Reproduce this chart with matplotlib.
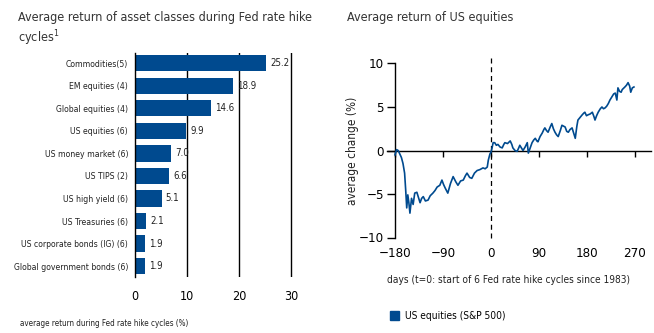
import matplotlib
matplotlib.use("Agg")
import matplotlib.pyplot as plt
from matplotlib.patches import Patch

plt.rcParams['font.family'] = ['DejaVu Sans']
plt.rcParams['font.stretch'] = 'condensed'

# ---- data: left chart ----
categories = ["Commodities(5)", "EM equities (4)", "Global equities (4)", "US equities (6)",
              "US money market (6)", "US TIPS (2)", "US high yield (6)", "US Treasuries (6)",
              "US corporate bonds (IG) (6)", "Global government bonds (6)"]
returns = [25.2, 18.9, 14.6, 9.9, 7.0, 6.6, 5.1, 2.1, 1.9, 1.9]
bar_ticks = [0, 10, 20, 30]

# ---- data: right chart ----
days = [-180, -177, -174, -171, -168, -165, -162, -160, -158, -156, -154, -152, -149, -146,
        -143, -139, -136, -133, -130, -127, -123, -118, -114, -109, -105, -101, -96, -92,
        -89, -86, -81, -76, -71, -66, -62, -57, -52, -48, -45, -40, -36, -31, -26, -21,
        -15, -11, -7, -5, -2, 0, 2, 4, 7, 10, 13, 17, 21, 24, 26, 31, 36, 39, 41, 45, 49,
        52, 54, 57, 60, 64, 68, 70, 74, 77, 80, 83, 86, 88, 92, 96, 99, 101, 104, 107,
        111, 114, 117, 120, 123, 126, 130, 133, 136, 139, 142, 145, 148, 152, 155, 158,
        161, 163, 167, 171, 174, 176, 179, 182, 186, 190, 193, 195, 198, 201, 205, 208,
        211, 214, 217, 220, 223, 227, 230, 233, 236, 238, 241, 244, 246, 251, 254, 257,
        260, 262, 265, 268]
us_eq = [-0.5, 0.1, 0.0, -0.4, -0.8, -1.5, -2.6, -4.5, -6.6, -5.1, -6.0, -7.2, -5.5, -6.2,
         -4.9, -4.8, -5.4, -6.0, -5.5, -5.3, -5.8, -5.7, -5.2, -4.9, -4.6, -4.2, -4.0, -3.4,
         -3.9, -4.3, -4.9, -3.8, -3.0, -3.6, -4.0, -3.5, -3.4, -2.9, -2.6, -3.1, -3.2, -2.6,
         -2.3, -2.2, -2.0, -2.1, -1.9, -1.1, -0.4, -0.2, 0.3, 0.9, 0.9, 0.6, 0.7, 0.4, 0.3,
         0.7, 0.9, 0.8, 1.1, 0.7, 0.3, 0.0, -0.1, 0.3, 0.6, 0.3, 0.0, 0.4, 0.9, -0.3, 0.4,
         0.9, 1.2, 1.4, 1.1, 1.0, 1.6, 2.0, 2.4, 2.6, 2.3, 2.1, 2.7, 3.1, 2.5, 2.1, 1.8,
         1.6, 2.3, 2.9, 2.8, 2.7, 2.2, 2.1, 2.4, 2.6, 2.0, 1.4, 2.8, 3.5, 3.8, 4.1, 4.3,
         4.4, 4.0, 4.1, 4.2, 4.4, 3.9, 3.5, 4.0, 4.4, 4.8, 5.0, 4.8, 4.9, 5.1, 5.4, 5.8,
         6.2, 6.5, 6.6, 5.8, 7.2, 6.8, 6.7, 7.0, 7.3, 7.5, 7.8, 7.4, 6.7, 7.2, 7.3]
day_ticks = [-180, -90, 0, 90, 180, 270]
y_ticks = [-10, -5, 0, 5, 10]

BLUE = "#004a8f"
TXT = "#333333"

fig = plt.figure(figsize=(6.54, 3.33), dpi=100)

# ---------------- left chart ----------------
ax1 = fig.add_axes([135 / 654, 1 - 277 / 333, 158 / 654, 224 / 333])
ypos = list(range(len(categories)))
bars = ax1.barh(ypos, returns, height=0.72, color=BLUE)
ax1.set_ylim(len(categories) - 0.52, -0.45)
ax1.set_xlim(0, 30.4)
ax1.set_yticks(ypos)
ax1.set_yticklabels(categories, fontsize=6.2, color="#222222")
ax1.set_xticks(bar_ticks)
ax1.tick_params(axis='both', length=0)
ax1.tick_params(axis='y', pad=5)
ax1.tick_params(axis='x', pad=9, labelsize=9)
for s in ['top', 'right', 'bottom']:
    ax1.spines[s].set_visible(False)
ax1.spines['left'].set_linewidth(1.0)
for t in bar_ticks[1:]:
    ax1.axvline(t, color='black', lw=1.0, zorder=0)
ax1.bar_label(bars, labels=[f"{v:.1f}" for v in returns], padding=3, fontsize=7, color="#222222")

fig.text(18 / 654, 1 - 18 / 333, "Average return of asset classes during Fed rate hike",
         fontsize=9, color=TXT, va='center', ha='left')
fig.text(18 / 654, 1 - 38 / 333, "cycles$^1$", fontsize=9, color=TXT, va='center', ha='left')
fig.text(20 / 654, 1 - 323 / 333, "average return during Fed rate hike cycles (%)",
         fontsize=5.8, color="#222222", va='center', ha='left')

# ---------------- right chart ----------------
ax2 = fig.add_axes([387 / 654, 1 - 237.5 / 333, 264 / 654, 174 / 333])
ax2.plot(days, us_eq, color=BLUE, lw=1.2, zorder=3)
ax2.set_xlim(-195, 300)
ax2.set_ylim(-10, 10)
ax2.vlines(0, -10, 10.6, colors='black', linestyles=(0, (4, 3)), lw=0.9, clip_on=False)
ax2.spines['top'].set_visible(False)
ax2.spines['right'].set_visible(False)
ax2.spines['left'].set_position(('data', -180))
ax2.spines['left'].set_bounds(-10, 10)
ax2.spines['bottom'].set_position(('data', 0))
ax2.spines['left'].set_linewidth(1.0)
ax2.spines['bottom'].set_linewidth(1.0)
ax2.set_yticks(y_ticks)
ax2.set_yticklabels(["\u221210", "\u22125", "0", "5", "10"])
ax2.tick_params(axis='y', length=6, width=1.0, pad=2, labelsize=9.5)
ax2.set_xticks(day_ticks)
ax2.tick_params(axis='x', direction='out', length=4.5, width=1.0, labelbottom=False)
sec = ax2.secondary_xaxis(0)
sec.set_xticks(day_ticks)
sec.set_xticklabels(["\u2212180", "\u221290", "0", "90", "180", "270"])
sec.tick_params(length=0, pad=7, labelsize=9.5)
sec.spines['bottom'].set_visible(False)
ax2.set_ylabel("average change (%)", fontsize=8.5, color="#222222", labelpad=0)

fig.text(347 / 654, 1 - 18 / 333, "Average return of US equities",
         fontsize=9, color=TXT, va='center', ha='left')
fig.text(387 / 654, 1 - 280 / 333, "days (t=0: start of 6 Fed rate hike cycles since 1983)",
         fontsize=7.3, color="#222222", va='center', ha='left')
fig.legend(handles=[Patch(color=BLUE, label="US equities (S&P 500)")],
           loc='center left', bbox_to_anchor=(386 / 654, 1 - 316 / 333), frameon=False,
           handlelength=0.9, handleheight=0.9, handletextpad=0.6, fontsize=7.3, borderaxespad=0)

fig.savefig("out.png", dpi=100)
